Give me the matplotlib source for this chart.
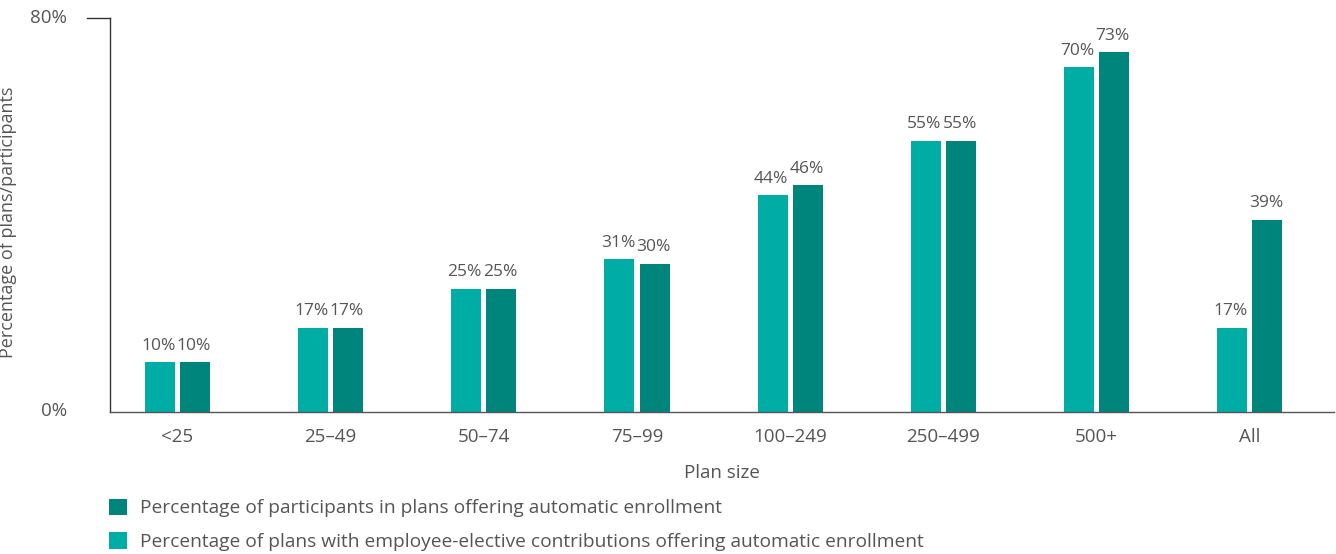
import matplotlib
matplotlib.use('Agg')
import matplotlib.pyplot as plt
from matplotlib.patches import Patch
import numpy as np

plt.rcParams['font.family'] = ['Open Sans', 'DejaVu Sans']

# 数据
plan_sizes = ['<25', '25–49', '50–74', '75–99', '100–249', '250–499', '500+', 'All']
plans_pct = [10, 17, 25, 31, 44, 55, 70, 17]          # 计划比例
participants_pct = [10, 17, 25, 30, 46, 55, 73, 39]   # 参与者比例

light = '#00ADA4'
dark = '#00857C'
grey = '#555555'

fig = plt.figure(figsize=(13.36, 5.54), dpi=100)
ax = fig.add_axes([110 / 1336, 1 - 411.5 / 554, 1224 / 1336, (411.5 - 18) / 554])

x = np.arange(len(plan_sizes))
w = 0.196
off = 0.115
b1 = ax.bar(x - off, plans_pct, w, color=light)
b2 = ax.bar(x + off, participants_pct, w, color=dark)

for bars, vals in [(b1, plans_pct), (b2, participants_pct)]:
    for rect, v in zip(bars, vals):
        ax.annotate(f'{v}%', xy=(rect.get_x() + rect.get_width() / 2, rect.get_height()),
                    xytext=(-1, 9), textcoords='offset points',
                    ha='center', va='baseline', fontsize=12.5, color=grey)

ax.set_xlim(-0.44, 7.55)
ax.set_ylim(0, 80)
ax.set_yticks([0, 80])
ax.set_yticklabels(['0%', '80%'])
ax.set_xticks(x)
ax.set_xticklabels(plan_sizes)
ax.tick_params(axis='both', length=0, labelsize=13.5, colors=grey)
ax.tick_params(axis='y', pad=31)
ax.tick_params(axis='x', pad=12)
for lab in ax.get_yticklabels():
    lab.set_va('center')

ax.spines['top'].set_visible(False)
ax.spines['right'].set_visible(False)
ax.spines['left'].set_color('#333333')
ax.spines['bottom'].set_color('#555555')
ax.spines['left'].set_linewidth(1)
ax.spines['bottom'].set_linewidth(1)

# 80% 处的短线
ax.plot([-23 / 1224, 0], [80, 80], color='#333333', lw=1,
        transform=ax.get_yaxis_transform(), clip_on=False)

ax.set_xlabel('Plan size', fontsize=13.5, color=grey, labelpad=13)
ax.set_ylabel('Percentage of plans/participants', fontsize=13, color=grey)
ax.yaxis.set_label_coords(-93 / 1224, 0.481)

handles = [Patch(facecolor=dark), Patch(facecolor=light)]
labels = ['Percentage of participants in plans offering automatic enrollment',
          'Percentage of plans with employee-elective contributions offering automatic enrollment']
leg = fig.legend(handles, labels, loc='upper left', bbox_to_anchor=(101 / 1336, 1 - 491 / 554),
                 frameon=False, fontsize=13.8, handlelength=0.94, handleheight=0.94,
                 handletextpad=0.68, labelspacing=0.78, borderaxespad=0)
for t in leg.get_texts():
    t.set_color(grey)

plt.savefig('out.png', dpi=100)
